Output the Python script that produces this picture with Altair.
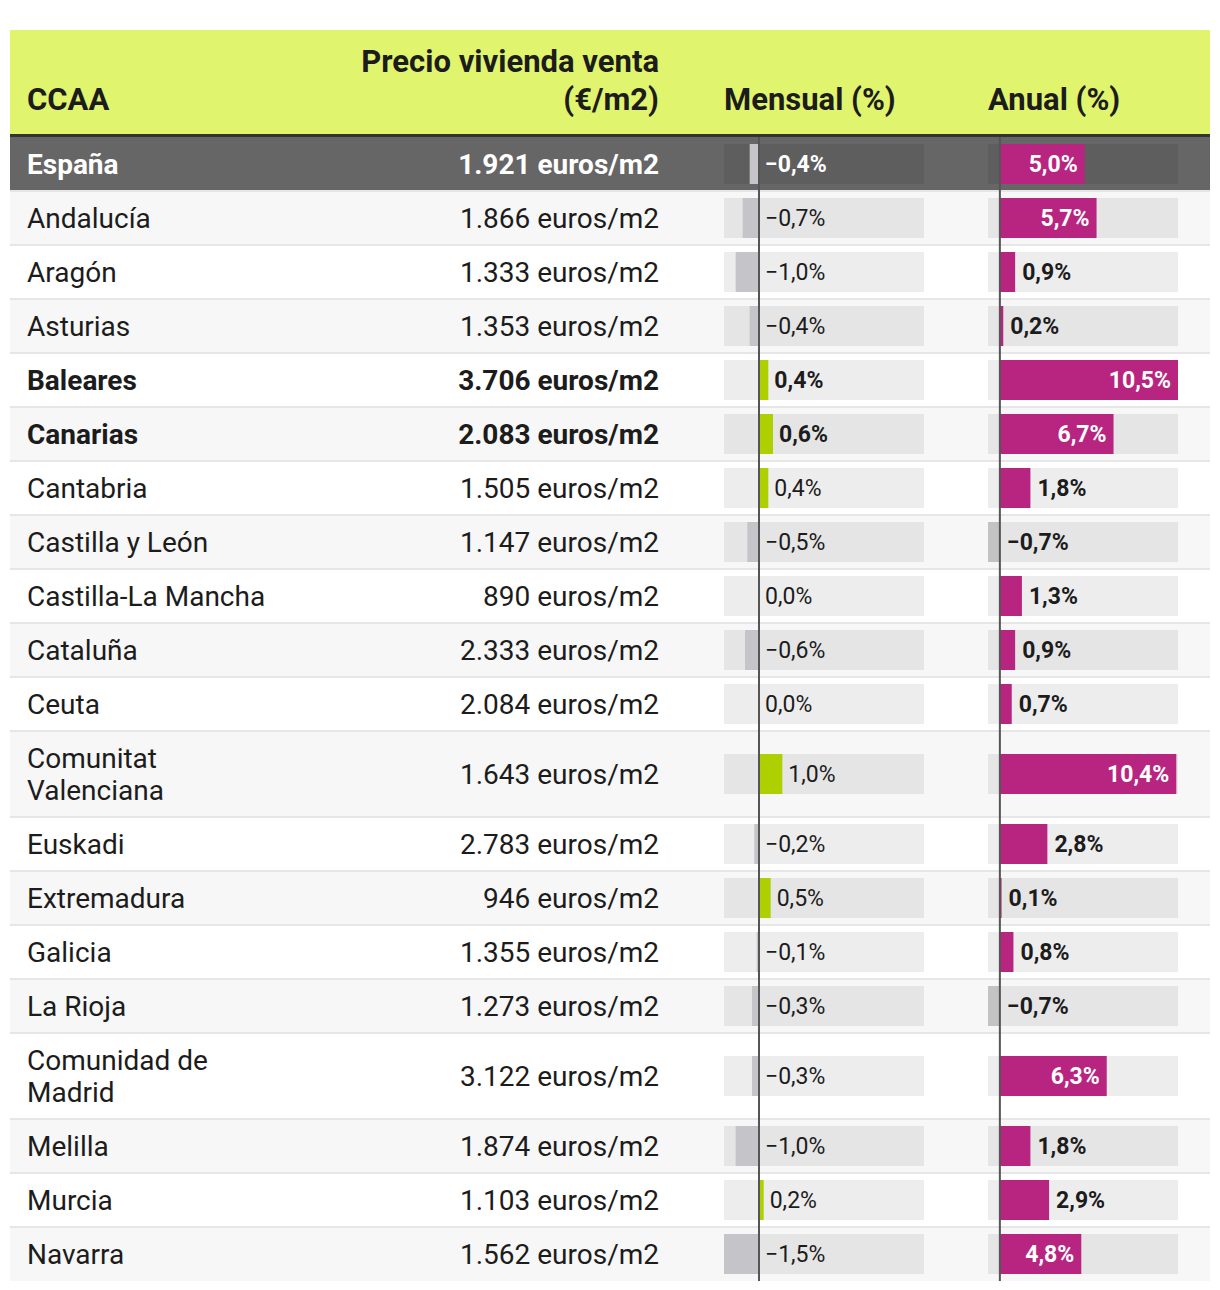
import altair as alt
import pandas as pd

# ---------------- data ----------------
ccaa = ["España", "Andalucía", "Aragón", "Asturias", "Baleares", "Canarias",
        "Cantabria", "Castilla y León", "Castilla-La Mancha", "Cataluña", "Ceuta",
        "Comunitat\nValenciana", "Euskadi", "Extremadura", "Galicia", "La Rioja",
        "Comunidad de\nMadrid", "Melilla", "Murcia", "Navarra"]
precio = [1921, 1866, 1333, 1353, 3706, 2083, 1505, 1147, 890, 2333, 2084,
          1643, 2783, 946, 1355, 1273, 3122, 1874, 1103, 1562]
mensual = [-0.4, -0.7, -1.0, -0.4, 0.4, 0.6, 0.4, -0.5, 0.0, -0.6, 0.0,
           1.0, -0.2, 0.5, -0.1, -0.3, -0.3, -1.0, 0.2, -1.5]
anual = [5.0, 5.7, 0.9, 0.2, 10.5, 6.7, 1.8, -0.7, 1.3, 0.9, 0.7,
         10.4, 2.8, 0.1, 0.8, -0.7, 6.3, 1.8, 2.9, 4.8]
destacadas = ["España", "Baleares", "Canarias"]
total = "España"

# ---------------- layout / style ----------------
W = 1200
HEADER_H = 104
BORDER_H = 3
ROW_H = 54
ROW_H2 = 86
LINE_H = 32
FONT = "Roboto"

HEADER_BG = "#e1f46e"
DARK_ROW = "#666666"
ALT_ROW = "#f7f7f7"
SEP = "#e6e6e6"
GREEN = "#aecf00"
GRAY_NEG = "#c4c4c9"
GRAY_NEG2 = "#c3c3c3"
MAGENTA = "#b82581"
TXT = "#1c1c1c"


def fmt_pct(v):
    s = f"{abs(v):.1f}".replace(".", ",") + "%"
    return ("−" + s) if v < 0 else s


def fmt_precio(p):
    return f"{p:,}".replace(",", ".") + " euros/m2"


rows = []
y = HEADER_H + BORDER_H
for i, n in enumerate(ccaa):
    nlines = n.count("\n") + 1
    h = ROW_H2 if nlines > 1 else ROW_H
    is_total = n == total
    bold = n in destacadas
    if is_total:
        bg = DARK_ROW
    else:
        bg = ALT_ROW if i % 2 == 1 else "#ffffff"
    a = anual[i]
    m = mensual[i]
    yc = y + h / 2
    rows.append(dict(
        name=n, precio=fmt_precio(precio[i]), m=m, a=a, zero=0.0,
        m_pos=max(m, 0.0), a_pos=max(a, 0.0),
        m_lab=fmt_pct(m), a_lab=fmt_pct(a),
        y0=y, y1=y + h, yc=yc, yn=yc - (nlines - 1) * LINE_H / 2,
        b0=yc - 20, b1=yc + 20,
        s0=y - 1, s1=y + 1, first=(i == 0),
        bg=bg, bold=bold, inside=(a > 4.0),
        txt="#ffffff" if is_total else TXT,
        mcol=(GREEN if m > 0 else GRAY_NEG),
        acol=(MAGENTA if a > 0 else GRAY_NEG2),
        mmin=-1.5, mmax=7.07, amin=-0.7, amax=10.5,
    ))
    y += h
H = y

df = pd.DataFrame(rows)
hdr = pd.DataFrame([dict(y0=0, y1=HEADER_H, y2=HEADER_H + BORDER_H, top=HEADER_H + BORDER_H, bot=H, zero=0.0)])

YS = alt.Scale(domain=[0, H], range=[0, H], nice=False, zero=False)
MS = alt.Scale(domain=[-1.5, 7.07], range=[714, 914], nice=False, zero=False)
AS = alt.Scale(domain=[-0.7, 10.5], range=[978, 1168], nice=False, zero=False)


def Y(f):
    return alt.Y(f, type="quantitative", scale=YS, axis=None)


def Y2(f):
    return alt.Y2(f)


base = alt.Chart(df)
hbase = alt.Chart(hdr)

header_bg = hbase.mark_rect(color=HEADER_BG).encode(
    x=alt.value(0), x2=alt.value(W), y=Y("y0"), y2=Y2("y1"))
header_border = hbase.mark_rect(color="#333333").encode(
    x=alt.value(0), x2=alt.value(W), y=Y("y1"), y2=Y2("y2"))

row_bg = base.mark_rect().encode(
    x=alt.value(0), x2=alt.value(W), y=Y("y0"), y2=Y2("y1"),
    color=alt.Color("bg:N", scale=None))
row_sep = base.transform_filter("!datum.first").mark_rect(color=SEP).encode(
    x=alt.value(0), x2=alt.value(W), y=Y("s0"), y2=Y2("s1"))

m_bg = base.mark_rect(color="#000000", opacity=0.07).encode(
    x=alt.X("mmin:Q", scale=MS, axis=None), x2="mmax:Q", y=Y("b0"), y2=Y2("b1"))
m_bar = base.mark_rect().encode(
    x=alt.X("zero:Q", scale=MS, axis=None), x2="m:Q", y=Y("b0"), y2=Y2("b1"),
    color=alt.Color("mcol:N", scale=None))
a_bg = base.mark_rect(color="#000000", opacity=0.07).encode(
    x=alt.X("amin:Q", scale=AS, axis=None), x2="amax:Q", y=Y("b0"), y2=Y2("b1"))
a_bar = base.mark_rect().encode(
    x=alt.X("zero:Q", scale=AS, axis=None), x2="a:Q", y=Y("b0"), y2=Y2("b1"),
    color=alt.Color("acol:N", scale=None))

m_zero = hbase.mark_rule(color="#555555", strokeWidth=2).encode(
    x=alt.X("zero:Q", scale=MS, axis=None), y=Y("top"), y2=Y2("bot"))
a_zero = hbase.mark_rule(color="#555555", strokeWidth=2).encode(
    x=alt.X("zero:Q", scale=AS, axis=None), y=Y("top"), y2=Y2("bot"))

BODY = 28
PCT = 23
DY = 2

layers = [header_bg, header_border, row_bg, row_sep, m_bg, m_bar, a_bg, a_bar, m_zero, a_zero]

for flag, wt in [("!datum.bold", "normal"), ("datum.bold", "bold")]:
    sub = base.transform_filter(flag)
    layers.append(sub.mark_text(align="left", baseline="middle", font=FONT, fontSize=BODY,
                                fontWeight=wt, lineBreak="\n", lineHeight=LINE_H, dy=DY).encode(
        x=alt.value(17), y=Y("yn"), text="name:N", color=alt.Color("txt:N", scale=None)))
    layers.append(sub.mark_text(align="right", baseline="middle", font=FONT, fontSize=BODY,
                                fontWeight=wt, dy=DY).encode(
        x=alt.value(649), y=Y("yc"), text="precio:N", color=alt.Color("txt:N", scale=None)))
    layers.append(sub.mark_text(align="left", baseline="middle", font=FONT, fontSize=PCT,
                                fontWeight=wt, dx=6, dy=1).encode(
        x=alt.X("m_pos:Q", scale=MS, axis=None), y=Y("yc"), text="m_lab:N",
        color=alt.Color("txt:N", scale=None)))

layers.append(base.transform_filter("!datum.inside").mark_text(
    align="left", baseline="middle", font=FONT, fontSize=PCT, fontWeight="bold", dx=7, dy=1).encode(
    x=alt.X("a_pos:Q", scale=AS, axis=None), y=Y("yc"), text="a_lab:N",
    color=alt.Color("txt:N", scale=None)))
layers.append(base.transform_filter("datum.inside").mark_text(
    align="right", baseline="middle", font=FONT, fontSize=PCT, fontWeight="bold", dx=-7, dy=1,
    color="#ffffff").encode(
    x=alt.X("a:Q", scale=AS, axis=None), y=Y("yc"), text="a_lab:N"))

HF = 31
htxt = dict(font=FONT, fontSize=HF, fontWeight="bold", color=TXT, baseline="alphabetic")
layers.append(hbase.mark_text(align="left", text="CCAA", **htxt).encode(
    x=alt.value(17), y=alt.value(80)))
layers.append(hbase.mark_text(align="right", text="Precio vivienda venta", **htxt).encode(
    x=alt.value(649), y=alt.value(42)))
layers.append(hbase.mark_text(align="right", text="(€/m2)", **htxt).encode(
    x=alt.value(649), y=alt.value(80)))
layers.append(hbase.mark_text(align="left", text="Mensual (%)", **htxt).encode(
    x=alt.value(714), y=alt.value(80)))
layers.append(hbase.mark_text(align="left", text="Anual (%)", **htxt).encode(
    x=alt.value(978), y=alt.value(80)))

chart = alt.layer(*layers).resolve_scale(x="independent").properties(
    width=W, height=H,
    padding={"left": 2, "top": 22, "right": 0, "bottom": 0},
    background="#ffffff",
).configure_view(stroke=None)

chart.save("out.html", embed_options={"renderer": "svg", "actions": False})
